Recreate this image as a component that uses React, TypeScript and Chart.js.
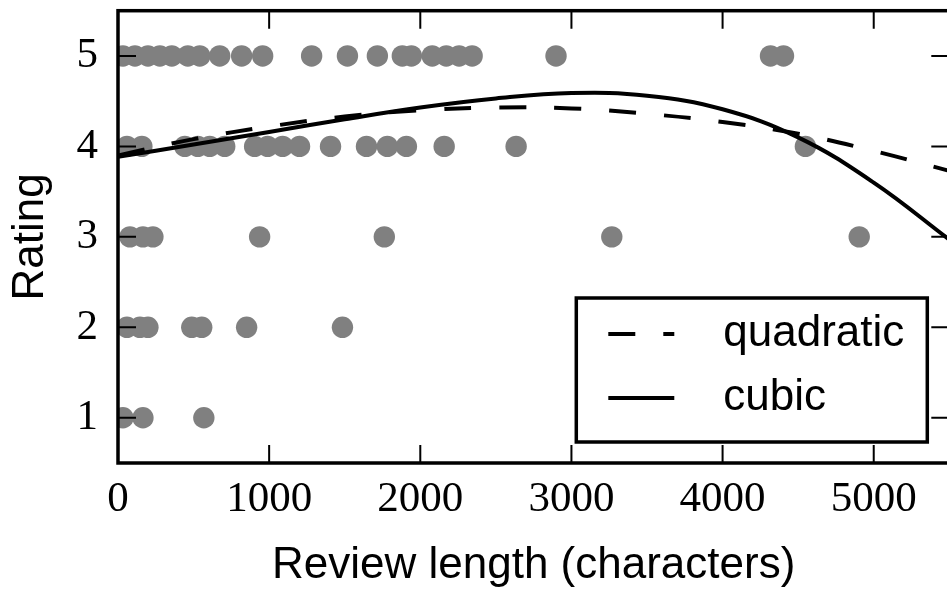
import React, { useEffect, useRef } from "react";
import { Chart, registerables } from "chart.js";

Chart.register(...registerables);

// Review lengths (characters) per rating row
const rating5 = [33, 112, 198, 277, 356, 462, 541, 673, 818, 957, 1281, 1518, 1716, 1881, 1941, 2079, 2172, 2257, 2343, 2898, 4317, 4403];
const rating4 = [59, 158, 442, 528, 607, 706, 904, 990, 1089, 1201, 1406, 1644, 1782, 1908, 2158, 2634, 4548];
const rating3 = [79, 165, 231, 937, 1762, 3267, 4904];
const rating2 = [59, 145, 198, 488, 554, 851, 1485];
const rating1 = [33, 165, 568];

// Fitted curves
const curveX = [0, 500, 1000, 1500, 2000, 2500, 3000, 3500, 4000, 4500, 5000, 5500];
const quadratic = [3.9, 4.08, 4.22, 4.33, 4.4, 4.43, 4.42, 4.36, 4.27, 4.14, 3.95, 3.73];
const cubic = [3.885, 4.02, 4.16, 4.3, 4.43, 4.53, 4.59, 4.56, 4.41, 4.1, 3.6, 2.97];

const xTicks = [0, 1000, 2000, 3000, 4000, 5000];
const yTicks = [1, 2, 3, 4, 5];
const xTitle = "Review length (characters)";
const yTitle = "Rating";
const seriesNames = ["quadratic", "cubic"];

const SANS = "'Liberation Sans', Arial, sans-serif";
const SERIF = "'Liberation Serif', 'Times New Roman', serif";

const framePlugin = {
  id: "frameAndLegend",
  afterDraw(chart: any) {
    const { ctx, chartArea, scales } = chart;
    const { left, top, right, bottom } = chartArea;
    ctx.save();
    // inward ticks on all four sides
    ctx.strokeStyle = "#000";
    ctx.lineWidth = 2;
    const tl = 18;
    ctx.beginPath();
    xTicks.forEach((v) => {
      const px = scales.x.getPixelForValue(v);
      ctx.moveTo(px, bottom);
      ctx.lineTo(px, bottom - tl);
      ctx.moveTo(px, top);
      ctx.lineTo(px, top + tl);
    });
    yTicks.forEach((v) => {
      const py = scales.y.getPixelForValue(v);
      ctx.moveTo(left, py);
      ctx.lineTo(left + tl, py);
      ctx.moveTo(right, py);
      ctx.lineTo(right - tl, py);
    });
    ctx.stroke();
    // frame
    ctx.lineWidth = 3.5;
    ctx.strokeRect(left, top, right - left, bottom - top);

    // legend box
    const bw = 351;
    const bh = 144;
    const bx = right - 22 - bw;
    const by = bottom - 21 - bh;
    ctx.fillStyle = "#fff";
    ctx.fillRect(bx, by, bw, bh);
    ctx.lineWidth = 3.5;
    ctx.strokeRect(bx, by, bw, bh);
    const rows = [by + 36, by + 100];
    chart.data.datasets
      .filter((d: any) => d.showLine)
      .forEach((d: any, i: number) => {
        const y = rows[i];
        ctx.save();
        ctx.strokeStyle = d.borderColor;
        ctx.lineWidth = d.borderWidth;
        ctx.setLineDash(d.borderDash || []);
        ctx.beginPath();
        ctx.moveTo(bx + 32, y);
        ctx.lineTo(bx + 98, y);
        ctx.stroke();
        ctx.restore();
        ctx.fillStyle = "#000";
        ctx.font = `44px ${SANS}`;
        ctx.textAlign = "left";
        ctx.textBaseline = "middle";
        ctx.fillText(d.label, bx + 147, y);
      });
    ctx.restore();
  },
};

export default function App() {
  const ref = useRef<HTMLCanvasElement | null>(null);

  useEffect(() => {
    if (!ref.current) return;
    const pts = [
      ...rating5.map((x) => ({ x, y: 5 })),
      ...rating4.map((x) => ({ x, y: 4 })),
      ...rating3.map((x) => ({ x, y: 3 })),
      ...rating2.map((x) => ({ x, y: 2 })),
      ...rating1.map((x) => ({ x, y: 1 })),
    ];
    const chart = new Chart(ref.current, {
      type: "scatter",
      data: {
        datasets: [
          {
            label: seriesNames[0],
            data: curveX.map((x, i) => ({ x, y: quadratic[i] })),
            showLine: true,
            borderColor: "#000",
            borderWidth: 4,
            borderDash: [27, 28],
            pointRadius: 0,
            tension: 0.4,
            fill: false,
            order: 0,
          } as any,
          {
            label: seriesNames[1],
            data: curveX.map((x, i) => ({ x, y: cubic[i] })),
            showLine: true,
            borderColor: "#000",
            borderWidth: 4,
            pointRadius: 0,
            tension: 0.4,
            fill: false,
            order: 0,
          } as any,
          {
            label: "reviews",
            data: pts,
            pointRadius: 10.7,
            pointBackgroundColor: "#808080",
            pointBorderWidth: 0,
            borderWidth: 0,
            order: 1,
          } as any,
        ],
      },
      options: {
        responsive: false,
        animation: false,
        devicePixelRatio: 1,
        events: [],
        layout: { padding: { left: 0, top: 5, right: 9, bottom: 0 } },
        plugins: {
          legend: { display: false },
          tooltip: { enabled: false },
        },
        scales: {
          x: {
            type: "linear",
            min: 0,
            max: 5500,
            afterBuildTicks: (s: any) => {
              s.ticks = xTicks.map((v) => ({ value: v }));
            },
            afterFit: (s: any) => {
              s.height = 128;
              s.paddingLeft = 0;
              s.paddingRight = 0;
            },
            grid: { display: false, drawTicks: false },
            border: { display: false },
            ticks: {
              color: "#000",
              padding: 11,
              maxRotation: 0,
              autoSkip: false,
              font: { family: SERIF, size: 43, lineHeight: 1.2 },
              callback: (v: any) => String(v),
            },
            title: {
              display: true,
              text: xTitle,
              color: "#000",
              font: { family: SANS, size: 44, lineHeight: 1.1 },
              padding: { top: 0, bottom: 1 },
            },
          },
          y: {
            type: "linear",
            min: 0.5,
            max: 5.5,
            afterBuildTicks: (s: any) => {
              s.ticks = yTicks.map((v) => ({ value: v }));
            },
            afterFit: (s: any) => {
              s.width = 118;
              s.paddingTop = 0;
              s.paddingBottom = 0;
            },
            grid: { display: false, drawTicks: false },
            border: { display: false },
            ticks: {
              color: "#000",
              padding: 20,
              autoSkip: false,
              font: { family: SERIF, size: 43, lineHeight: 1.2 },
              callback: (v: any) => String(v),
            },
            title: {
              display: true,
              text: yTitle,
              color: "#000",
              font: { family: SANS, size: 44, lineHeight: 1.2 },
              padding: { top: 4, bottom: 0 },
            },
          },
        },
      } as any,
      plugins: [framePlugin],
    });
    return () => chart.destroy();
  }, []);

  return (
    <div
      style={{
        position: "fixed",
        left: 0,
        top: 0,
        width: 947,
        height: 591,
        overflow: "hidden",
        background: "#fff",
      }}
    >
      <canvas ref={ref} width={960} height={591} style={{ display: "block" }} />
    </div>
  );
}
